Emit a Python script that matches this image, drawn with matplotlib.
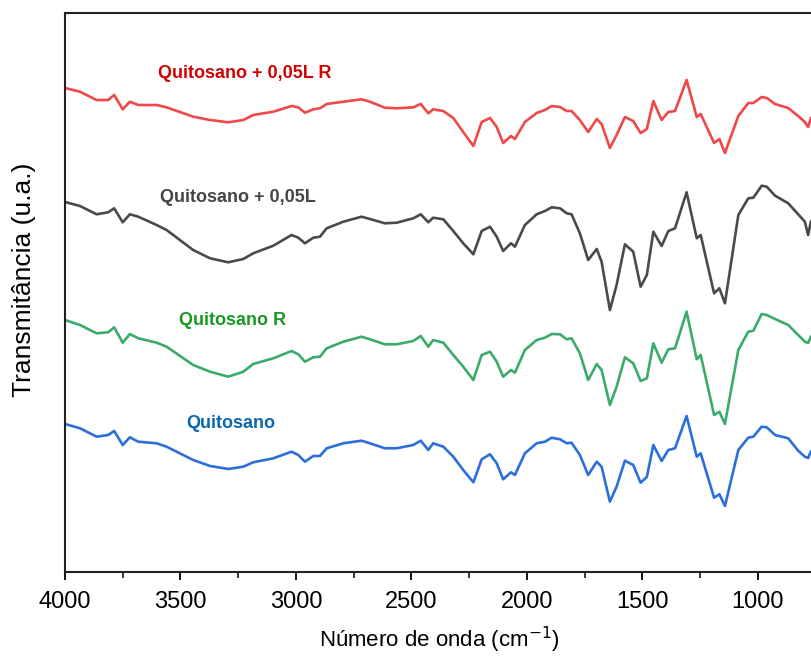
import matplotlib
matplotlib.use("Agg")
import matplotlib.pyplot as plt
from matplotlib.ticker import MultipleLocator

# wavenumber grid (cm-1), shared by all four spectra
wavenumber = [4000, 3935, 3863, 3813, 3787, 3750, 3719, 3683, 3603, 3560,
              3445, 3372, 3293, 3228, 3185, 3098, 3019, 2990, 2961, 2925,
              2896, 2867, 2795, 2716, 2680, 2615, 2564, 2492, 2460, 2427,
              2406, 2362, 2319, 2276, 2232, 2196, 2160, 2131, 2103, 2069,
              2052, 2009, 1958, 1922, 1893, 1857, 1828, 1807, 1771, 1735,
              1698, 1677, 1641, 1612, 1576, 1540, 1508, 1481, 1453, 1417,
              1388, 1359, 1309, 1265, 1248, 1190, 1167, 1143, 1085, 1042,
              1020, 984, 962, 926, 869, 826, 797, 783, 771, 740]

# transmittance (a.u.), already stacked
quitosano = [148, 143.7, 135.3, 137, 141, 127, 134.7, 130.3, 128.7, 125.3,
             112, 106, 103, 105.3, 109.7, 113.7, 120.3, 117, 110.3, 116,
             116, 123.7, 128.7, 131.3, 128.7, 123.7, 123.7, 127, 131.3, 122,
             128.7, 125.3, 115.3, 102, 89.7, 112.7, 117.7, 108.7, 92.7, 99.7,
             97, 118.7, 128.7, 130.3, 134.3, 132.7, 128.7, 129.3, 117, 97,
             110.3, 105.3, 70.3, 85.3, 111.3, 107, 89.3, 95, 127, 111,
             122, 123.7, 156, 115.3, 118.7, 74.3, 77.7, 66, 122, 134.3,
             135.3, 145.3, 144.7, 137, 133.7, 121.3, 115.3, 114, 120.3, 127]

quitosano_r = [252, 247, 238.7, 239.7, 244.7, 229.3, 238, 233.7, 229.3, 225.3,
               207, 200.3, 195.3, 200.3, 208, 213.7, 221, 217.7, 210.3, 214.7,
               215.3, 223.7, 230.3, 235.3, 232.7, 227.7, 227.7, 231, 236, 225.3,
               232, 229.3, 217, 205.3, 192, 217, 220.3, 210.3, 195.3, 202,
               199.3, 222, 232, 234.3, 238, 237.7, 232.7, 233.7, 218.7, 192,
               208, 202, 167, 185.3, 214.7, 208.7, 191, 193.7, 228.7, 209.3,
               222.7, 223.7, 260.3, 212.7, 217, 157, 160.3, 148, 222, 240.3,
               241.3, 258, 257, 253, 247, 237, 230.3, 229, 235.3, 242]

quitosano_l = [370, 366, 357.7, 359.7, 363.7, 349.7, 357.7, 355.3, 347, 342,
               322, 313.7, 309.7, 313, 318.7, 326.3, 337, 334.3, 328.7, 334.3,
               335.3, 343.7, 350.3, 355.3, 353, 348.7, 349.3, 353.7, 357.7, 349.7,
               354.3, 352.7, 341, 328.7, 317.7, 341, 345.3, 335.3, 321, 328.7,
               325.3, 347, 357.7, 361, 364.7, 363.7, 358.7, 357.7, 338.7, 312,
               323, 310.3, 262, 287, 327.7, 320.3, 285.3, 297, 340.3, 326,
               341, 343.7, 379.7, 333.7, 337, 278.7, 283.7, 268.7, 357, 373.7,
               374.3, 386.3, 385.3, 376.3, 368.7, 357.7, 350.3, 337, 350.3, 360]

quitosano_l_r = [484, 480.3, 472, 472, 477, 462.7, 470.3, 467, 467, 464.7,
                 455.3, 452, 449.7, 452, 457, 460.3, 466, 464.7, 459.3, 462.7,
                 463.7, 468, 470.3, 472.7, 470.3, 464.3, 463.7, 464.7, 468, 458.7,
                 462.7, 461, 454, 440, 426, 450, 454, 445, 429, 436,
                 433, 450, 459, 462, 466, 465, 461, 461, 452, 440,
                 453, 448, 424, 437, 455, 451, 439, 443, 471, 452,
                 460, 461, 492, 455, 458, 429, 433, 419, 456, 469,
                 469, 475, 474, 468, 464, 456, 450, 445, 454, 460]

series = [quitosano, quitosano_r, quitosano_l, quitosano_l_r]
names = ["Quitosano", "Quitosano R", "Quitosano + 0,05L", "Quitosano + 0,05L R"]
line_colors = ["#2b6fdc", "#3aab6b", "#4a4a4a", "#f04848"]
text_colors = ["#0b66b0", "#189a22", "#454545", "#d40000"]
label_x = [3281, 3273, 3251, 3221]
label_y = [148, 251, 375, 499]

FONT = "Liberation Sans"

fig = plt.figure(figsize=(8.11, 6.57), dpi=100)
ax = fig.add_axes([0.0801, 0.1294, 0.9223, 0.8508])

for values, color in zip(series, line_colors):
    ax.plot(wavenumber, values, color=color, linewidth=1.9, solid_joinstyle="round")

for name, color, x, y in zip(names, text_colors, label_x, label_y):
    ax.text(x, y, name, color=color, fontsize=13, fontweight="bold", family=FONT,
            ha="center", va="center")

ax.set_xlim(4000, 762)
ax.set_ylim(0, 559)
ax.xaxis.set_major_locator(MultipleLocator(500))
ax.xaxis.set_minor_locator(MultipleLocator(250))
ax.tick_params(axis="x", which="major", direction="out", length=6, width=1.3,
               labelsize=17, pad=8)
ax.tick_params(axis="x", which="minor", direction="out", length=4, width=1.1)
ax.set_yticks([])
for lbl in ax.get_xticklabels():
    lbl.set_family(FONT)

for side in ["left", "top", "bottom"]:
    ax.spines[side].set_linewidth(1.5)
    ax.spines[side].set_color("#222222")
ax.spines["right"].set_visible(False)

ax.set_xlabel("Número de onda (cm$^{-1}$)", fontsize=16, family=FONT, labelpad=8)
ax.set_ylabel("Transmitância (u.a.)", fontsize=19, family=FONT)
ax.yaxis.set_label_coords(-0.039, 0.522)

fig.savefig("out.png", dpi=100)
